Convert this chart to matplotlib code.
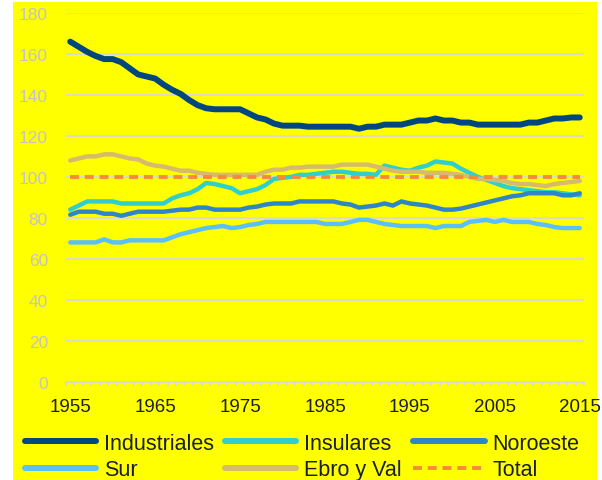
import numpy as np
import matplotlib.pyplot as plt
from matplotlib.patches import Rectangle
from matplotlib.ticker import MultipleLocator

plt.rcParams['font.family'] = ['Liberation Sans', 'DejaVu Sans']

years = list(range(1955, 2016))

industriales = [166, 163.5, 161, 159, 157.5, 157.5, 156, 153, 150, 149,
                148, 145, 142.5, 140.5, 137.5, 135, 133.5, 133, 133, 133,
                133, 131, 129, 128, 126, 125, 125, 125, 124.5, 124.5,
                124.5, 124.5, 124.5, 124.5, 123.5, 124.5, 124.5, 125.5, 125.5, 125.5,
                126.5, 127.5, 127.5, 128.5, 127.5, 127.5, 126.5, 126.5, 125.5, 125.5,
                125.5, 125.5, 125.5, 125.5, 126.5, 126.5, 127.5, 128.5, 128.5, 129,
                129]
insulares = [84, 86, 88, 88, 88, 88, 87, 87, 87, 87,
             87, 87, 89.5, 91, 92, 94, 97, 96.5, 95.5, 94.5,
             92, 93, 94, 96, 99, 99.5, 100, 101, 101, 101.5,
             102, 102.5, 102.5, 102, 101.5, 101.5, 101, 105.5, 104.5, 103.5,
             103, 104.5, 105.5, 107.5, 107, 106.5, 104, 102, 100, 98.5,
             97, 95.5, 94.5, 94, 93.5, 93, 92.5, 92.5, 92, 91.5,
             91]
noroeste = [81.5, 83, 83, 83, 82, 82, 81, 82, 83, 83,
            83, 83, 83.5, 84, 84, 85, 85, 84, 84, 84,
            84, 85, 85.5, 86.5, 87, 87, 87, 88, 88, 88,
            88, 88, 87, 86.5, 85, 85.5, 86, 87, 86, 88,
            87, 86.5, 86, 85, 84, 84, 84.5, 85.5, 86.5, 87.5,
            88.5, 89.5, 90.5, 91, 92, 92, 92, 92, 91, 91,
            92]
sur = [68, 68, 68, 68, 69.5, 68, 68, 69, 69, 69,
       69, 69, 70.5, 72, 73, 74, 75, 75.5, 76, 75,
       75.5, 76.5, 77, 78, 78, 78, 78, 78, 78, 78,
       77, 77, 77, 78, 79, 79, 78, 77, 76.5, 76,
       76, 76, 76, 75, 76, 76, 76, 78, 78.5, 79,
       78, 79, 78, 78, 78, 77, 76.5, 75.5, 75, 75,
       75]
ebro = [108, 109, 110, 110, 111, 111, 110, 109, 108.5, 106.5,
        105.5, 105, 104, 103, 103, 102, 101.5, 101, 101, 101,
        101, 101, 101, 102.5, 103.5, 103.5, 104.5, 104.5, 105, 105,
        105, 105, 106, 106, 106, 106, 105, 104, 103, 102.5,
        102.5, 102.5, 102, 102, 102, 101.5, 101, 100, 99, 99,
        98.5, 98, 97, 96.5, 96.5, 96, 95.5, 96.5, 97, 97.5,
        98]
total = [100] * len(years)

fig = plt.figure(figsize=(6.02, 4.81), dpi=100, facecolor='white')
# yellow chart area, drawn beneath the axes
fig.patches.append(Rectangle((13 / 602, 0), 584 / 602, 478 / 481,
                             transform=fig.transFigure, facecolor='#ffff00',
                             edgecolor='none', zorder=-10))

ax = fig.add_axes([66 / 602, 1 - 382.7 / 481, 518 / 602, (382.7 - 14) / 481])
ax.set_facecolor('none')

lw = 3.2
ax.plot(years, industriales, color='#00477f', lw=4.3, solid_capstyle='round', label='Industriales', zorder=5)
ax.plot(years, insulares, color='#30cfcc', lw=lw, solid_capstyle='round', label='Insulares', zorder=3)
ax.plot(years, noroeste, color='#2e86c8', lw=lw, solid_capstyle='round', label='Noroeste', zorder=3)
ax.plot(years, sur, color='#5bc0f8', lw=lw, solid_capstyle='round', label='Sur', zorder=3)
ax.plot(years, ebro, color='#d6bb6c', lw=lw, solid_capstyle='round', label='Ebro y Val', zorder=3)
ax.plot(years, total, color='#f58b3a', lw=2.8, dashes=(2.3, 1.5), label='Total', zorder=4)

ax.set_xlim(1954.5, 2015.5)
ax.set_ylim(0, 180)
ax.set_yticks(np.arange(0, 181, 20))
ax.yaxis.grid(True, color='#d9d9d9', lw=1.3)
ax.set_axisbelow(True)
for side in ['top', 'right', 'left']:
    ax.spines[side].set_visible(False)
ax.spines['bottom'].set_color('#d9d9d9')
ax.spines['bottom'].set_linewidth(1.3)

ax.set_xticks(range(1955, 2016, 10))
ax.xaxis.set_minor_locator(MultipleLocator(1, offset=0.5))
ax.tick_params(axis='x', which='major', length=0, pad=12, labelsize=13.5, labelcolor='#1a1f33')
ax.tick_params(axis='x', which='minor', length=3, width=1.3, color='#d9d9d9', direction='out')
ax.tick_params(axis='y', length=0, pad=13, labelsize=12.5, labelcolor='#c4c4c4')

h, l = ax.get_legend_handles_labels()
order = [0, 3, 1, 4, 2, 5]
leg = fig.legend([h[i] for i in order], [l[i] for i in order], ncol=3, loc='upper left',
                 bbox_to_anchor=(25 / 602, 1 - 434 / 481), frameon=False, fontsize=15.5,
                 handlelength=3.3, handletextpad=0.35, columnspacing=0.55, labelspacing=0.25,
                 borderaxespad=0, borderpad=0, labelcolor='#1a1f33')
for line in leg.get_lines():
    if line.get_label() != 'Total':
        line.set_linewidth(4.3)

fig.savefig('out.png', dpi=100, facecolor='white')
